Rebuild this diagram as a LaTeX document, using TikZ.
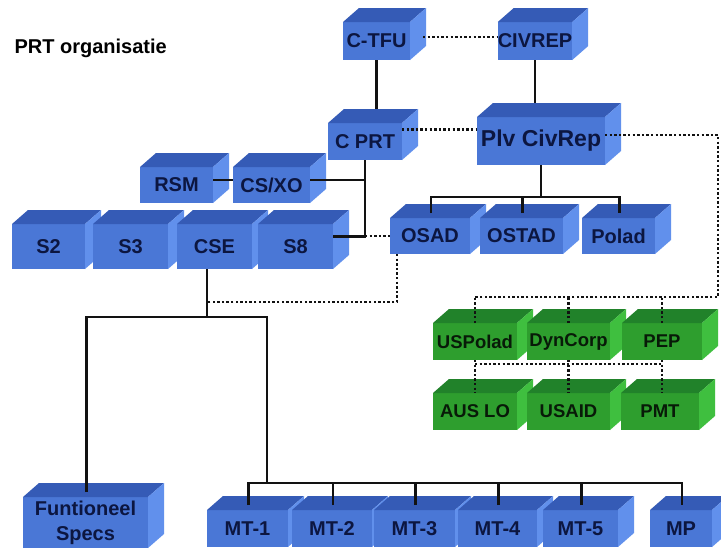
\documentclass[tikz,border=0pt]{standalone}
\usepackage{fontspec}
\setmainfont{Liberation Sans}
\usetikzlibrary{calc}

\definecolor{bfront}{HTML}{4A77D6}
\definecolor{btop}{HTML}{355BB6}
\definecolor{bside}{HTML}{6190EC}
\definecolor{btext}{HTML}{0C1640}
\definecolor{gfront}{HTML}{2E9E2E}
\definecolor{gtop}{HTML}{21822A}
\definecolor{gside}{HTML}{3FBF3F}
\definecolor{gtext}{HTML}{081A08}
\definecolor{linkcol}{HTML}{121212}

% depth of the 3-D blocks
\newcommand\cubedepthx{16}
\newcommand\cubedepthy{14}
% top and side faces of a block, plus two helper points on its top face
\newcommand\cubefaces[3]{%
  \fill[#2] (#1.north west) -- ++(\cubedepthx,-\cubedepthy)
        -- ($(#1.north east)+(\cubedepthx,-\cubedepthy)$) -- (#1.north east) -- cycle;
  \fill[#3] (#1.north east) -- ++(\cubedepthx,-\cubedepthy)
        -- ($(#1.south east)+(\cubedepthx,-\cubedepthy)$) -- (#1.south east) -- cycle;
  \coordinate (#1-top) at ($(#1.north)+(0,-\cubedepthy)$);
  \coordinate (#1-d) at ($(#1.north)+(1,-5)$);
}
\newcommand\bluefaces[1]{\cubefaces{#1}{btop}{bside}}
\newcommand\greenfaces[1]{\cubefaces{#1}{gtop}{gside}}

\tikzset{
  boxbase/.style={rectangle, inner sep=0pt, outer sep=0pt, align=center,
                  font=\bfseries\fontsize{20}{25}\selectfont},
  bluebox/.style={boxbase, fill=bfront, text=btext},
  greenbox/.style={boxbase, fill=gfront, text=gtext,
                   font=\bfseries\fontsize{18.5}{22}\selectfont},
  link/.style={draw=linkcol, line width=2.6pt},
  dotlink/.style={draw=linkcol, line width=2.6pt, dash pattern=on 2.4pt off 2.2pt},
}

\begin{document}
\begin{tikzpicture}[x=1pt, y=-1pt]
\fill[white] (0,0) rectangle (721,552);
\useasboundingbox (0,0) rectangle (721,552);

\node[anchor=base west, font=\bfseries\fontsize{20}{24}\selectfont] (title) at (11,53) {PRT organisatie};

% command level
\node[bluebox, minimum width=67pt, minimum height=38pt] (ctfu) at (376.5,41) {C-TFU}; \bluefaces{ctfu}
\node[bluebox, minimum width=73pt, minimum height=38pt] (civrep) at (535,41) {CIVREP}; \bluefaces{civrep}
\node[bluebox, minimum width=74pt, minimum height=37pt] (cprt) at (365,141.5) {C PRT}; \bluefaces{cprt}
\node[bluebox, minimum width=128pt, minimum height=48pt, font=\bfseries\fontsize{23}{26}\selectfont] (plv) at (541,141) {Plv CivRep}; \bluefaces{plv}

% staff
\node[bluebox, minimum width=73pt, minimum height=36pt] (rsm) at (176.5,185) {RSM}; \bluefaces{rsm}
\node[bluebox, minimum width=77pt, minimum height=36pt] (csxo) at (271.5,185) {CS/XO}; \bluefaces{csxo}
\node[bluebox, minimum width=73pt, minimum height=45pt] (s2) at (48.5,246.5) {S2}; \bluefaces{s2}
\node[bluebox, minimum width=75pt, minimum height=45pt] (s3) at (130.5,246.5) {S3}; \bluefaces{s3}
\node[bluebox, minimum width=75pt, minimum height=45pt] (cse) at (214.5,246.5) {CSE}; \bluefaces{cse}
\node[bluebox, minimum width=75pt, minimum height=45pt] (s8) at (295.5,246.5) {S8}; \bluefaces{s8}

% civilian advisers
\node[bluebox, minimum width=80pt, minimum height=36pt] (osad) at (430,236) {OSAD}; \bluefaces{osad}
\node[bluebox, minimum width=83pt, minimum height=36pt] (ostad) at (521.5,236) {OSTAD}; \bluefaces{ostad}
\node[bluebox, minimum width=73pt, minimum height=36pt] (polad) at (618.5,236) {Polad}; \bluefaces{polad}

% partners
\node[greenbox, minimum width=84pt, minimum height=37pt] (uspolad) at (475,341.5) {USPolad}; \greenfaces{uspolad}
\node[greenbox, minimum width=83pt, minimum height=37pt] (dyncorp) at (568.5,341.5) {DynCorp}; \greenfaces{dyncorp}
\node[greenbox, minimum width=80pt, minimum height=37pt] (pep) at (662,341.5) {PEP}; \greenfaces{pep}
\node[greenbox, minimum width=84pt, minimum height=37pt] (auslo) at (475,411.5) {AUS LO}; \greenfaces{auslo}
\node[greenbox, minimum width=83pt, minimum height=37pt] (usaid) at (568.5,411.5) {USAID}; \greenfaces{usaid}
\node[greenbox, minimum width=78pt, minimum height=37pt] (pmt) at (660,411.5) {PMT}; \greenfaces{pmt}

% teams
\node[bluebox, minimum width=125pt, minimum height=51pt] (fs) at (85.5,522.5) {Funtioneel\\Specs}; \bluefaces{fs}
\node[bluebox, minimum width=81pt, minimum height=37pt] (mt1) at (247.5,528.5) {MT-1}; \bluefaces{mt1}
\node[bluebox, minimum width=80pt, minimum height=37pt] (mt2) at (332,528.5) {MT-2}; \bluefaces{mt2}
\node[bluebox, minimum width=81pt, minimum height=37pt] (mt3) at (414.5,528.5) {MT-3}; \bluefaces{mt3}
\node[bluebox, minimum width=79pt, minimum height=37pt] (mt4) at (497.5,528.5) {MT-4}; \bluefaces{mt4}
\node[bluebox, minimum width=75pt, minimum height=37pt] (mt5) at (580.5,528.5) {MT-5}; \bluefaces{mt5}
\node[bluebox, minimum width=62pt, minimum height=37pt] (mp) at (681,528.5) {MP}; \bluefaces{mp}

% junction points
\coordinate (ob) at (541,197);
\coordinate (split) at (207,317);
\coordinate (mtbus) at (267,483);
\coordinate (cj) at (207,302);
\coordinate (redge) at (718,297);
\coordinate (gb) at (473,364);

% solid lines
\draw[link] (ctfu.south) -- (ctfu.south |- cprt-top);
\draw[link] (civrep.south) -- (civrep.south |- plv-top);
\draw[link] (plv.south) -- (ob);
\draw[link] (osad-d) |- (ob) -| (polad-d);
\draw[link] (ostad-d) -- (ostad-d |- ob);
\draw[link] ([yshift=5pt]rsm.east) -- ([yshift=5pt]csxo.west);
\draw[link] ([yshift=5pt]csxo.east) -| (cprt.south);
\draw[link] ([yshift=10pt]s8.east) -| (cprt.south);
\draw[link] (cse.south -| split) -- (split);
\draw[link] (fs-d) |- (mtbus |- split) -- (mtbus);
\draw[link] (mt1-d) |- (mtbus -| mp-d) -- (mp-d);
\foreach \m in {mt2,mt3,mt4,mt5} \draw[link] (\m-d) -- (\m-d |- mtbus);

% dotted lines
\draw[dotlink] ([xshift=13pt,yshift=4pt]ctfu.east) -- ([yshift=4pt]ctfu.east -| civrep.west);
\draw[dotlink] ([yshift=12pt]cprt.east) -- ([yshift=12pt]cprt.east -| plv.west);
\draw[dotlink] (cprt.south |- osad.west) -- (osad.west);
\draw[dotlink] ([xshift=7pt]osad.south west) |- (cj);
\draw[dotlink] ([yshift=6pt]plv.east) -| (redge) -- (uspolad.north |- redge);
\foreach \g in {uspolad,dyncorp,pep} \draw[dotlink] (\g.north) -- (\g.north |- redge);
\draw[dotlink] (uspolad.south |- gb) -- (pep.south |- gb);
\foreach \g/\h in {uspolad/auslo,dyncorp/usaid,pep/pmt} \draw[dotlink] (\g.south) -- (\g.south |- \h.north);
\end{tikzpicture}
\end{document}
